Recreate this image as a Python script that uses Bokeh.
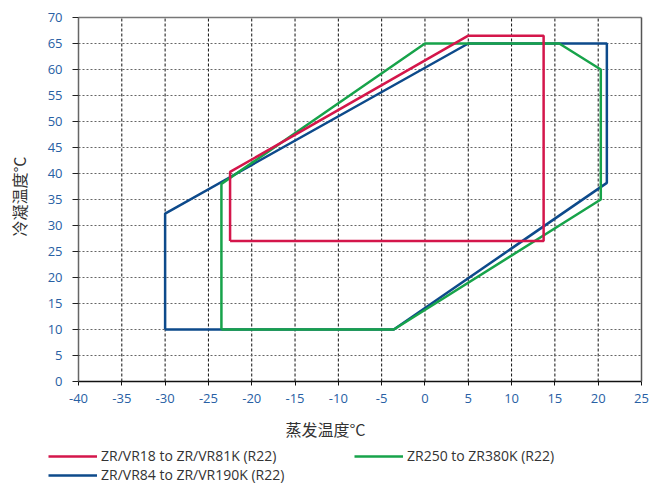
from bokeh.plotting import figure
from bokeh.models import Range1d, FixedTicker, Legend, LegendItem, Label, LinearAxis
from bokeh.embed import file_html
from bokeh.resources import INLINE
import math

# ---- data ----
x_ticks = [-40, -35, -30, -25, -20, -15, -10, -5, 0, 5, 10, 15, 20, 25]
y_ticks = [0, 5, 10, 15, 20, 25, 30, 35, 40, 45, 50, 55, 60, 65, 70]

red_name = "ZR/VR18 to ZR/VR81K (R22)"
red_x = [-22.5, -22.5, 5, 13.7, 13.7, -22.5]
red_y = [27, 40.3, 66.5, 66.5, 27, 27]

green_name = "ZR250 to ZR380K (R22)"
green_x = [-23.5, -23.5, 0, 15.5, 20.3, 20.3, -3.6, -23.5]
green_y = [10, 38, 65, 65, 60, 35, 10, 10]

blue_name = "ZR/VR84 to ZR/VR190K (R22)"
blue_x = [-30, -30, 5, 21, 21, -3.6, -30]
blue_y = [10, 32.3, 65, 65, 38.2, 10, 10]

x_title = "蒸发温度°C"
y_title = "冷凝温度°C"

RED = "#d4164b"
GREEN = "#17a34a"
BLUE = "#0d4a8b"
TICK_BLUE = "#2860a4"

# ---- layout (pixels) ----
W, H = 662, 484
PLOT_L, PLOT_R, PLOT_T, PLOT_B = 78, 641, 17, 381
XMIN, XMAX = x_ticks[0], x_ticks[-1]
YMIN, YMAX = y_ticks[0], y_ticks[-1]
sx = (XMAX - XMIN) / (PLOT_R - PLOT_L)   # data per px
sy = (YMAX - YMIN) / (PLOT_B - PLOT_T)

def dx(px):
    return XMIN + (px - PLOT_L) * sx

def dy(py):
    return YMIN + (PLOT_B - py) * sy

p = figure(width=W, height=H, output_backend="svg", toolbar_location=None,
           x_range=Range1d(dx(0), dx(W)), y_range=Range1d(dy(H), dy(0)))
p.min_border = 0
p.min_border_left = 0
p.min_border_right = 0
p.min_border_top = 0
p.min_border_bottom = 0
p.outline_line_color = None
p.background_fill_color = "white"
p.border_fill_color = "white"
p.xgrid.visible = False
p.ygrid.visible = False

# dotted grid inside the plotting box
inner_x = x_ticks[1:-1]
inner_y = y_ticks[1:-1]
p.segment(x0=inner_x, y0=[YMIN] * len(inner_x), x1=inner_x, y1=[YMAX] * len(inner_x),
          line_color="#111111", line_width=1, line_dash="3 2")
p.segment(x0=[XMIN] * len(inner_y), y0=inner_y, x1=[XMAX] * len(inner_y), y1=inner_y,
          line_color="#666666", line_width=1, line_dash="2 2")

xa = p.xaxis[0]
ya = p.yaxis[0]
xa.fixed_location = YMIN
ya.fixed_location = XMIN
xa.bounds = (XMIN, XMAX)
ya.bounds = (YMIN, YMAX)
xa.ticker = FixedTicker(ticks=x_ticks)
ya.ticker = FixedTicker(ticks=y_ticks)
xa.major_label_overrides = {t: str(t) for t in x_ticks}
ya.major_label_overrides = {t: str(t) for t in y_ticks}
for ax in (xa, ya):
    ax.minor_tick_line_color = None
    ax.major_label_text_font = "Open Sans"
    ax.major_label_text_font_size = "13px"
    ax.major_label_text_color = TICK_BLUE
    ax.major_tick_in = 0
xa.axis_line_color = "#111111"
xa.axis_line_width = 1.5
xa.major_tick_line_color = "#111111"
xa.major_tick_out = 4
xa.major_label_standoff = 8
ya.axis_line_color = "#666666"
ya.axis_line_width = 1.5
ya.major_tick_line_color = "#222222"
ya.major_tick_out = 6
ya.major_label_standoff = 10

# top and right frame borders
top_ax = LinearAxis(fixed_location=YMAX, bounds=(XMIN, XMAX), ticker=FixedTicker(ticks=[]),
                    axis_line_color="#777777", axis_line_width=1.5,
                    major_tick_line_color=None, minor_tick_line_color=None)
right_ax = LinearAxis(fixed_location=XMAX, bounds=(YMIN, YMAX), ticker=FixedTicker(ticks=[]),
                      axis_line_color="#555555", axis_line_width=1.5,
                      major_tick_line_color=None, minor_tick_line_color=None)
p.add_layout(top_ax, "above")
p.add_layout(right_ax, "right")

rb = p.line(blue_x, blue_y, line_color=BLUE, line_width=2.5)
rg = p.line(green_x, green_y, line_color=GREEN, line_width=2.5)
rr = p.line(red_x, red_y, line_color=RED, line_width=2.5)

# axis titles
p.add_layout(Label(x=dx(325), y=dy(428), text=x_title, text_align="center",
                   text_baseline="middle", text_font="Noto Sans CJK SC",
                   text_font_size="16px", text_color="#333333"))
p.add_layout(Label(x=dx(18), y=dy(196), text=y_title, angle=math.pi / 2,
                   text_align="center", text_baseline="middle",
                   text_font="Noto Sans CJK SC", text_font_size="16px",
                   text_color="#333333"))

# legend entries (location: px from canvas left / bottom)
def make_legend(name, r, loc):
    lg = Legend(items=[LegendItem(label=name, renderers=[r])], location=loc,
                padding=0, margin=0, spacing=0, border_line_alpha=0,
                background_fill_alpha=0, glyph_width=49, glyph_height=14,
                label_height=14, label_standoff=4,
                label_text_font="Open Sans", label_text_font_size="14px",
                label_text_color="#333333")
    p.add_layout(lg, "center")

make_legend(red_name, rr, (48, H - 465))
make_legend(green_name, rg, (354, H - 465))
make_legend(blue_name, rb, (48, H - 484))

open("out.html", "w").write(file_html(p, INLINE))
